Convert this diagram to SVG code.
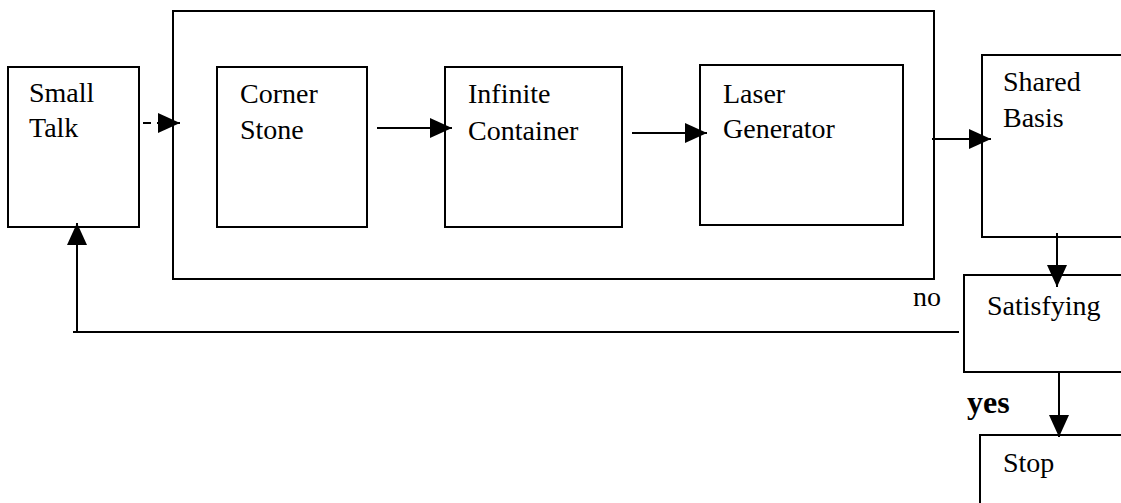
<svg xmlns="http://www.w3.org/2000/svg" width="1121" height="503" viewBox="0 0 1121 503">
<style>
.box{fill:#fff;stroke:#000;stroke-width:2}
.frame{fill:none;stroke:#000;stroke-width:2}
.t{font-family:"Liberation Serif","Times New Roman",serif;font-size:28px;fill:#000}
.b{font-weight:bold;font-size:32px}
.c{fill:none;stroke:#000;stroke-width:2}
</style>
<defs>
<marker id="ah" markerUnits="userSpaceOnUse" markerWidth="22" markerHeight="20" refX="22" refY="10" orient="auto">
<path d="M0,0 L22,10 L0,20 z" fill="#000"/>
</marker>
</defs>
<rect width="1121" height="503" fill="#fff"/>
<g id="container"><rect class="frame" x="173" y="11" width="761" height="268"/></g>
<g id="small-talk"><rect class="box" x="8" y="67" width="131" height="160"/>
<text class="t" x="29" y="102">Small</text><text class="t" x="29" y="137">Talk</text></g>
<g id="corner-stone"><rect class="box" x="217" y="67" width="150" height="160"/>
<text class="t" x="240" y="103">Corner</text><text class="t" x="240" y="139">Stone</text></g>
<g id="infinite-container"><rect class="box" x="445" y="67" width="177" height="160"/>
<text class="t" x="468" y="103">Infinite</text><text class="t" x="468" y="140">Container</text></g>
<g id="laser-generator"><rect class="box" x="700" y="65" width="203" height="160"/>
<text class="t" x="723" y="103">Laser</text><text class="t" x="723" y="138">Generator</text></g>
<g id="shared-basis"><rect class="box" x="982" y="55" width="150" height="182"/>
<text class="t" x="1003" y="91">Shared</text><text class="t" x="1003" y="127">Basis</text></g>
<g id="satisfying"><rect class="box" x="964" y="275" width="170" height="97"/>
<text class="t" x="987" y="315">Satisfying</text></g>
<g id="stop"><rect class="box" x="980" y="435" width="160" height="90"/>
<text class="t" x="1003" y="472">Stop</text></g>
<g id="connectors">
<line class="c" x1="143" y1="123" x2="151" y2="123"/>
<line class="c" x1="157" y1="123" x2="180" y2="123" marker-end="url(#ah)"/>
<line class="c" x1="377" y1="128" x2="452" y2="128" marker-end="url(#ah)"/>
<line class="c" x1="632" y1="133" x2="707" y2="133" marker-end="url(#ah)"/>
<line class="c" x1="932" y1="139" x2="991" y2="139" marker-end="url(#ah)"/>
<line class="c" x1="1057" y1="233" x2="1057" y2="287" marker-end="url(#ah)"/>
<line class="c" x1="1059" y1="372" x2="1059" y2="437" marker-end="url(#ah)"/>
<polyline class="c" points="959,332 73,332"/>
<line class="c" x1="77" y1="332" x2="77" y2="223" marker-end="url(#ah)"/>
<text class="t" x="913" y="306">no</text>
<text class="t b" x="967" y="413">yes</text>
</g>
</svg>
